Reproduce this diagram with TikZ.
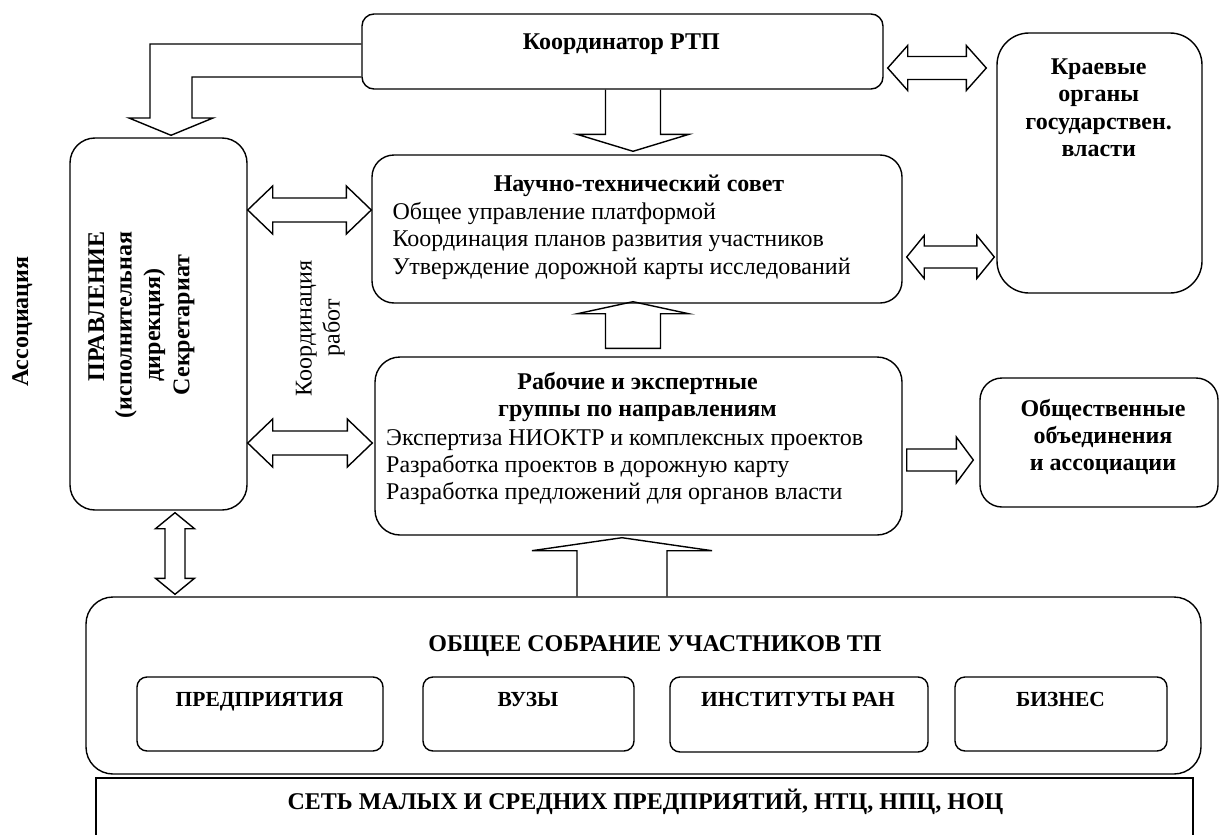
\documentclass[tikz,border=0pt]{standalone}
\usepackage{fontspec}
\setmainfont{Liberation Serif}
\usetikzlibrary{calc}
\pgfdeclarelayer{bg}
\pgfsetlayers{bg,main}
% horizontal double block arrow: #1 left tip, #2 right tip, #3 shaft half, #4 head half, #5 head length
\newcommand{\hdbl}[5]{%
  \draw[blk] (#1) -- ++(#5,-#4) -- ++(0,#4-#3) -- ($(#2)+(-#5,-#3)$) -- ++(0,#3-#4) -- (#2)
    -- ++(-#5,#4) -- ++(0,#3-#4) -- ($(#1)+(#5,#3)$) -- ++(0,#4-#3) -- cycle;}
% vertical double block arrow: #1 top tip, #2 bottom tip
\newcommand{\vdbl}[5]{%
  \draw[blk] (#1) -- ++(#4,#5) -- ++(#3-#4,0) -- ($(#2)+(#3,-#5)$) -- ++(#4-#3,0) -- (#2)
    -- ++(-#4,-#5) -- ++(#4-#3,0) -- ($(#1)+(-#3,#5)$) -- ++(#3-#4,0) -- cycle;}
\begin{document}
\begin{tikzpicture}[x=1pt,y=-1pt,
  box/.style={draw, line width=1.4pt, inner sep=0pt},
  blk/.style={draw, fill=white, line width=1.4pt, line join=miter},
  txt/.style={inner sep=0pt, font=\fontsize{24}{27.4}\selectfont},
  btxt/.style={inner sep=0pt, font=\fontsize{24}{27.6}\selectfont\bfseries},
  stxt/.style={inner sep=0pt, font=\fontsize{21.5}{25}\selectfont\bfseries}]
\useasboundingbox (0,0) rectangle (1221,835);
\clip (0,0) rectangle (1221,835);

% boxes
\node[box, rounded corners=12pt, minimum width=521pt, minimum height=75pt] (koord) at (622.5,51.5) {};
\node[box, rounded corners=25pt, minimum width=177pt, minimum height=372pt] (prav) at (158.5,324) {};
\node[box, rounded corners=22pt, minimum width=530pt, minimum height=148pt] (nts) at (637,229) {};
\node[box, rounded corners=25pt, minimum width=527pt, minimum height=178pt] (rab) at (638.5,446) {};
\node[box, rounded corners=32pt, minimum width=205pt, minimum height=260pt] (kraev) at (1099.5,163) {};
\node[box, rounded corners=22pt, minimum width=238pt, minimum height=129pt] (obsh) at (1099,442.5) {};
\node[box, rounded corners=27pt, minimum width=1115pt, minimum height=177pt] (sobr) at (643.5,685.5) {};
\node[box, rounded corners=10pt, minimum width=246pt, minimum height=74pt] (pred) at (260,714) {};
\node[box, rounded corners=10pt, minimum width=211pt, minimum height=74pt] (vuz) at (528.5,714) {};
\node[box, rounded corners=10pt, minimum width=258pt, minimum height=75pt] (inst) at (799,714.5) {};
\node[box, rounded corners=10pt, minimum width=212pt, minimum height=74pt] (biz) at (1061,714) {};
\node[box, minimum width=1097pt, minimum height=82pt] (set) at (644.5,819) {};

% texts (for multi-line nodes, anchor=base is the baseline of the last line)
\node[btxt, anchor=base] (koordT) at (621.3,49.3) {Координатор РТП};
\node[btxt, anchor=base] (ntsT) at (639,191.7) {Научно-технический совет};
\node[txt, anchor=base west, align=left] (ntsL) at (392.3,274.1)
  {Общее управление платформой\\Координация планов развития участников\\Утверждение дорожной карты исследований};
\node[btxt, anchor=base, align=center] (rabT) at (637.5,416.9) {Рабочие и экспертные\\группы по направлениям};
\node[txt, anchor=base west, align=left] (rabL) at (386,499.8)
  {Экспертиза НИОКТР и комплексных проектов\\Разработка проектов в дорожную карту\\Разработка предложений для органов власти};
\node[btxt, anchor=base, align=center] (kraevT) at (1098.7,156.8) {Краевые\\органы\\государствен.\\власти};
\node[btxt, anchor=base, align=center, font=\fontsize{24}{26.7}\selectfont\bfseries] (obshT) at (1103,470.1)
  {Общественные\\объединения\\и ассоциации};
\node[btxt, rotate=90, anchor=base] (assoc) at (28,321.7) {Ассоциация};
\node[btxt, rotate=90, anchor=base] (pr1) at (104,306.5) {ПРАВЛЕНИЕ};
\node[btxt, rotate=90, anchor=base] (pr2) at (131.7,325) {(исполнительная};
\node[btxt, rotate=90, anchor=base] (pr3) at (160,325) {дирекция)};
\node[btxt, rotate=90, anchor=base] (pr4) at (189.3,325) {Секретариат};
\node[txt, rotate=90, anchor=base] (kr1) at (311.5,328.3) {Координация};
\node[txt, rotate=90, anchor=base] (kr2) at (339.5,327.5) {работ};
\node[btxt, anchor=base] (sobrT) at (655,651) {ОБЩЕЕ СОБРАНИЕ УЧАСТНИКОВ ТП};
\node[btxt, anchor=base] (setT) at (645.5,809.3) {СЕТЬ МАЛЫХ И СРЕДНИХ ПРЕДПРИЯТИЙ, НТЦ, НПЦ, НОЦ};
\node[stxt, anchor=base] (predT) at (259.5,706) {ПРЕДПРИЯТИЯ};
\node[stxt, anchor=base] (vuzT) at (528,706) {ВУЗЫ};
\node[stxt, anchor=base] (instT) at (798,706) {ИНСТИТУТЫ РАН};
\node[stxt, anchor=base] (bizT) at (1060.5,706) {БИЗНЕС};

% arrows
\begin{pgfonlayer}{bg}
% Координатор -> Правление (bent)
\coordinate (kp1) at (koord.west |- 0,44);
\coordinate (kp2) at (koord.west |- 0,77);
\coordinate (kpt) at ($(prav.north -| 171,0)+(0,-2)$);
\draw[blk] (kp1) -- (150,44) -- (150,118) -- (129,118) -- (kpt) -- (213,118) -- (192,118) -- (192,77) -- (kp2);
% Координатор -> НТС
\coordinate (kn1) at (koord.south -| 633,0);
\coordinate (kn2) at ($(nts.north -| 633,0)+(0,-3)$);
\draw[blk] ($(kn1)+(-27.5,0)$) -- ($(kn2)+(-27.5,-17)$) -- ($(kn2)+(-56,-17)$) -- (kn2)
  -- ($(kn2)+(56,-17)$) -- ($(kn2)+(27.5,-17)$) -- ($(kn1)+(27.5,0)$);
% Рабочие -> НТС
\coordinate (rn1) at ($(rab.north -| 633,0)+(0,-8)$);
\coordinate (rn2) at ($(nts.south -| 633,0)+(0,-2)$);
\draw[blk] ($(rn1)+(-27.5,0)$) -- ($(rn2)+(-27.5,12)$) -- ($(rn2)+(-55.5,12)$) -- (rn2)
  -- ($(rn2)+(55.5,12)$) -- ($(rn2)+(27.5,12)$) -- ($(rn1)+(27.5,0)$) -- cycle;
% Собрание -> Рабочие
\coordinate (sr1) at (sobr.north -| 622,0);
\coordinate (sr2) at ($(rab.south -| 622,0)+(0,2)$);
\draw[blk] ($(sr1)+(-45,0)$) -- ($(sr2)+(-45,13)$) -- ($(sr2)+(-90,13)$) -- (sr2)
  -- ($(sr2)+(90,13)$) -- ($(sr2)+(45,13)$) -- ($(sr1)+(45,0)$);
% Рабочие -> Общественные
\coordinate (ro1) at ($(rab.east |- 0,460)+(4,0)$);
\coordinate (ro2) at ($(obsh.west |- 0,460)+(-6,0)$);
\draw[blk] ($(ro1)+(0,-11)$) -- ($(ro2)+(-17,-11)$) -- ($(ro2)+(-17,-23)$) -- (ro2)
  -- ($(ro2)+(-17,23)$) -- ($(ro2)+(-17,11)$) -- ($(ro1)+(0,11)$) -- cycle;
% double arrows
\coordinate (pn1) at (prav.east |- 0,210);
\coordinate (pn2) at (nts.west |- 0,210);
\hdbl{pn1}{pn2}{12}{24}{25}
\coordinate (pr1c) at (prav.east |- 0,443);
\coordinate (pr2c) at ($(rab.west |- 0,443)+(-2,0)$);
\hdbl{pr1c}{pr2c}{12}{24}{25}
\coordinate (kk1) at ($(koord.east |- 0,68)+(4,0)$);
\coordinate (kk2) at ($(kraev.west |- 0,68)+(-10,0)$);
\hdbl{kk1}{kk2}{11.5}{22.5}{20}
\coordinate (nk1) at ($(nts.east |- 0,257)+(4,0)$);
\coordinate (nk2) at ($(kraev.west |- 0,257)+(-2,0)$);
\hdbl{nk1}{nk2}{11}{21.5}{17.5}
\coordinate (ps1) at ($(prav.south -| 175,0)+(0,2)$);
\coordinate (ps2) at ($(sobr.north -| 175,0)+(0,-2)$);
\vdbl{ps1}{ps2}{10}{19.5}{16}
\end{pgfonlayer}
\end{tikzpicture}
\end{document}
